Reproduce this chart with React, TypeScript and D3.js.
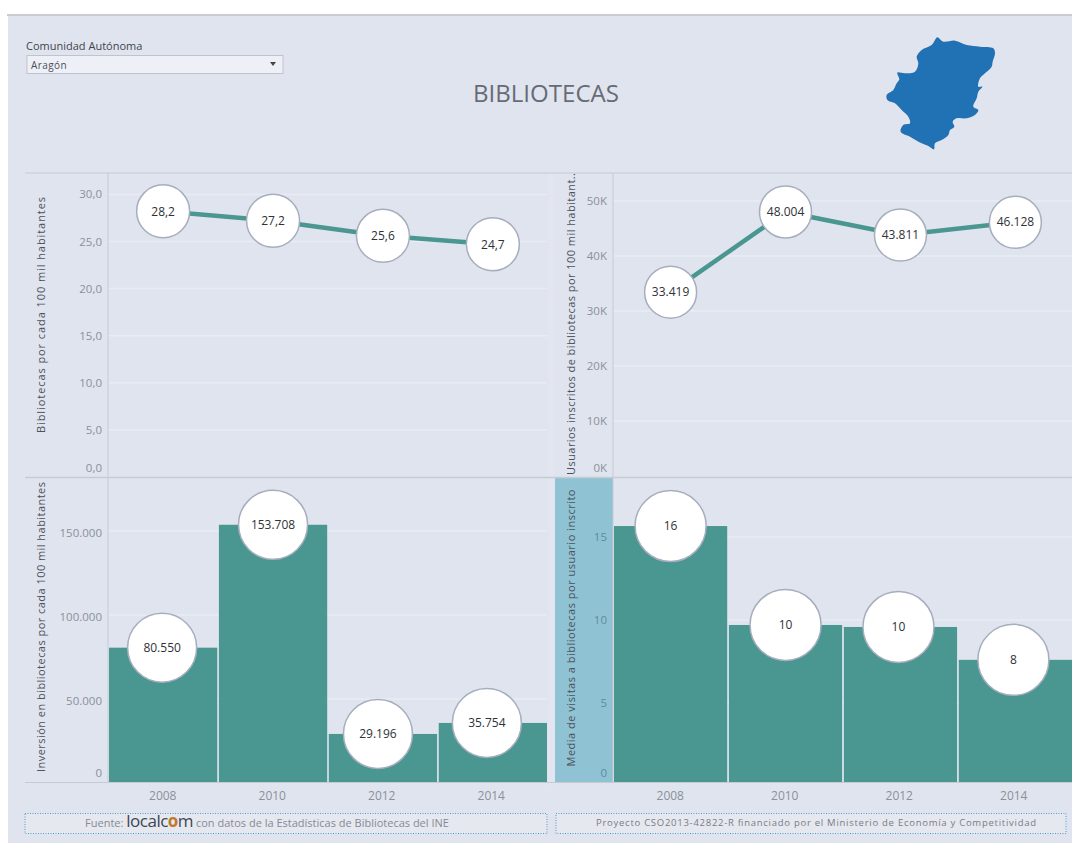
import React from "react";
import * as d3 from "d3";

const years = ["2008", "2010", "2012", "2014"];
const bibliotecas = [28.2, 27.2, 25.6, 24.7];
const usuarios = [33419, 48004, 43811, 46128];
const inversion = [80550, 153708, 29196, 35754];
const visitas = [15.66, 9.7, 9.58, 7.6];

const bibliotecasTicks = [0, 5, 10, 15, 20, 25, 30];
const usuariosTicks = [0, 10000, 20000, 30000, 40000, 50000];
const inversionTicks = [0, 50000, 100000, 150000];
const visitasTicks = [0, 5, 10, 15];

// Outline of Aragón, in arbitrary map units
const aragonOutline: [number, number][] = [
  [232,52],[250,65],[285,62],[320,75],[360,80],[400,85],[405,100],[398,125],[395,140],[375,160],[360,175],[355,200],[367,200],[355,215],[350,235],[340,260],[355,270],[345,285],[320,295],[290,295],[278,305],[283,320],[270,330],[265,345],[245,360],[225,370],[222,388],[205,378],[185,370],[150,350],[122,335],[130,315],[150,310],[145,290],[125,270],[105,250],[82,240],[80,225],[100,210],[110,190],[118,178],[112,158],[135,160],[165,155],[175,130],[170,110],[185,90],[215,75],[225,60],
];

const BG = "#e0e4ef";
const TEAL = "#4a9690";
const GRID = "#e9ecf5";
const RULE = "#c6cad3";
const TICK = "#8b9099";
const FONT = "'Open Sans', 'Noto Sans', sans-serif";

const esInt = (v: number) => d3.format(",.0f")(v).replace(/,/g, ".");
const esDec = (v: number) => d3.format(".1f")(v).replace(".", ",");
const kFmt = (v: number) => `${v / 1000}K`;

const LEFT = { axisX: 108, x0: 109, x1: 547, titleX: 41 };
const RIGHT = { axisX: 613, x0: 614, x1: 1072, titleX: 571 };
const TOP_ROW = { top: 173, bottom: 477, zeroLabelY: 468 };
const BOTTOM_ROW = { top: 478, bottom: 782, zeroLabelY: 773 };

type PanelProps = {
  col: typeof LEFT;
  row: typeof TOP_ROW;
  values: number[];
  ticks: number[];
  tickFormat: (v: number) => string;
  labelFormat: (v: number) => string;
  y: d3.ScaleLinear<number, number>;
  kind: "line" | "bar";
  radius: number;
  title: string;
  titleCenter: number;
  titleLength: number;
  tickColor?: string;
  tickShift?: number;
  nudge?: number[];
};

function Panel(p: PanelProps) {
  const x = d3.scaleBand<string>().domain(years).range([p.col.x0, p.col.x1]).paddingInner(0.015).paddingOuter(0);
  const cx = (i: number) => (x(years[i]) as number) + x.bandwidth() / 2 + (p.nudge ? p.nudge[i] : 0);
  const line = d3.line<number>().x((_, i) => cx(i)).y((d) => p.y(d));
  return (
    <g>
      {p.ticks.filter((t) => t !== 0).map((t) => (
        <line key={t} x1={p.col.x0} x2={p.col.x1} y1={p.y(t)} y2={p.y(t)} stroke={GRID} strokeWidth={1.5} />
      ))}
      {p.kind === "bar" && p.values.map((v, i) => (
        <rect key={i} x={x(years[i])} width={x.bandwidth()} y={p.y(v)} height={p.row.bottom - p.y(v)} fill={TEAL} />
      ))}
      {p.kind === "line" && <path d={line(p.values) as string} fill="none" stroke={TEAL} strokeWidth={4.5} />}
      {p.ticks.map((t) => (
        <text key={t} x={p.col.axisX - 6} y={t === 0 ? p.row.zeroLabelY : p.y(t) + (p.tickShift ?? 0)} dy="0.35em" textAnchor="end"
          fontSize={11.5} fill={p.tickColor ?? TICK} fontFamily={FONT}>{p.tickFormat(t)}</text>
      ))}
      <text transform={`translate(${p.col.titleX},${p.titleCenter}) rotate(-90)`} textAnchor="middle" dy="0.35em"
        fontSize={11} fill="#4c525c" fontFamily={FONT} textLength={p.titleLength} lengthAdjust="spacing">{p.title}</text>
      {p.values.map((v, i) => (
        <g key={i}>
          <circle cx={cx(i)} cy={p.y(v)} r={p.radius} fill="#ffffff" stroke="#a6aebd" strokeWidth={1.5} />
          <text x={cx(i)} y={p.y(v)} dy="0.35em" textAnchor="middle" fontSize={12} fill="#2e3237" fontFamily={FONT}>
            {p.labelFormat(v)}
          </text>
        </g>
      ))}
    </g>
  );
}

function YearLabels({ col }: { col: typeof LEFT }) {
  const x = d3.scaleBand<string>().domain(years).range([col.x0, col.x1]);
  return (
    <g>
      {years.map((yr) => (
        <text key={yr} x={(x(yr) as number) + x.bandwidth() / 2 - 1} y={796} dy="0.35em" textAnchor="middle"
          fontSize={12} fill={TICK} fontFamily={FONT}>{yr}</text>
      ))}
    </g>
  );
}

export default function App() {
  const yBib = d3.scaleLinear().domain([0, 30]).range([477, 194.4]);
  const yUsu = d3.scaleLinear().domain([0, 50000]).range([476, 201]);
  const yInv = d3.scaleLinear().domain([0, 150000]).range([783, 531]);
  const yVis = d3.scaleLinear().domain([0, 15]).range([786, 537]);

  const mapX = d3.scaleLinear().domain([0, 480]).range([860, 1020]);
  const mapY = d3.scaleLinear().domain([0, 420]).range([20, 160]);
  const mapPath = d3.line<[number, number]>()
    .x((d) => mapX(d[0])).y((d) => mapY(d[1]))
    .curve(d3.curveCatmullRomClosed)(aragonOutline) as string;

  return (
    <svg width={1072} height={843} style={{ position: "absolute", left: 0, top: 0, display: "block" }}>
      <rect width={1072} height={843} fill="#ffffff" />
      <rect x={8} y={16} width={1064} height={827} fill={BG} />
      <line x1={7} x2={1072} y1={15} y2={15} stroke="#c9ccd1" strokeWidth={2} />

      <text x={26} y={50} fontSize={11} fill="#3f444c" fontFamily={FONT}>Comunidad Autónoma</text>
      <rect x={27} y={55.5} width={256} height={18} fill="#eef0f7" stroke="#bfc3cc" />
      <text x={31} y={69} fontSize={10} fill="#4a4f57" fontFamily={FONT} letterSpacing={0.4}>Aragón</text>
      <path d={d3.line()([[270, 62], [276, 62], [273, 66]]) + "Z"} fill="#444" />

      <text x={546} y={94} dy="0.35em" textAnchor="middle" fontSize={23} fontWeight={500} fill="#666b75" fontFamily={FONT}
        textLength={146} lengthAdjust="spacingAndGlyphs">BIBLIOTECAS</text>
      <path d={mapPath} fill="#2171b5" />

      <rect x={555} y={478} width={58} height={304} fill="#8fc3d3" />
      <rect x={548} y={173} width={6} height={612} fill="#e3e6f1" />

      <line x1={25} x2={1072} y1={173} y2={173} stroke={RULE} />
      <line x1={25} x2={1072} y1={477.5} y2={477.5} stroke={RULE} strokeWidth={1.5} />
      <line x1={25} x2={1072} y1={782.5} y2={782.5} stroke={RULE} />
      <line x1={108} x2={108} y1={173} y2={782} stroke={RULE} />
      <line x1={613} x2={613} y1={173} y2={782} stroke={RULE} />

      <Panel col={LEFT} row={TOP_ROW} values={bibliotecas} ticks={bibliotecasTicks} tickFormat={esDec} labelFormat={esDec}
        y={yBib} kind="line" radius={26.5} title="Bibliotecas por cada 100 mil habitantes" titleCenter={315} titleLength={236} />
      <Panel col={RIGHT} row={TOP_ROW} values={usuarios} ticks={usuariosTicks} tickFormat={kFmt} labelFormat={esInt}
        y={yUsu} kind="line" radius={26} title="Usuarios inscritos de bibliotecas por 100 mil habitant.." titleCenter={324} titleLength={302} />
      <Panel col={LEFT} row={BOTTOM_ROW} values={inversion} ticks={inversionTicks} tickFormat={esInt} labelFormat={esInt}
        y={yInv} kind="bar" radius={34.5} title="Inversión en bibliotecas por cada 100 mil habitantes" titleCenter={627} titleLength={290}
        tickShift={2} nudge={[-1, 0, -5, -6]} />
      <Panel col={RIGHT} row={BOTTOM_ROW} values={visitas} ticks={visitasTicks} tickFormat={(v) => String(v)} labelFormat={(v) => String(Math.round(v))}
        y={yVis} kind="bar" radius={35.5} title="Media de visitas a bibliotecas por usuario inscrito" titleCenter={628} titleLength={277}
        tickColor="#5f8b9b" nudge={[0, 0, -2, -2]} />

      <YearLabels col={LEFT} />
      <YearLabels col={RIGHT} />

      <rect x={25} y={813.5} width={522} height={20} fill="#e6e8f0" stroke="#4f9fc8" strokeDasharray="1 1.5" />
      <rect x={556} y={813.5} width={510} height={20} fill="#e6e8f0" stroke="#4f9fc8" strokeDasharray="1 1.5" />
      <text x={267} y={823.5} dy="0.35em" textAnchor="middle" fontSize={11} fill="#858a93" fontFamily={FONT}>
        <tspan>Fuente: </tspan>
        <tspan fontSize={17} fontWeight={500} letterSpacing={-0.5} fill="#3c4654">localc</tspan>
        <tspan fontSize={17} fontWeight={700} letterSpacing={-0.5} fill="#c07a2e">o</tspan>
        <tspan fontSize={17} fontWeight={500} letterSpacing={-0.5} fill="#3c4654">m</tspan>
        <tspan> con datos de la Estadísticas de Bibliotecas del INE</tspan>
      </text>
      <text x={816} y={823} dy="0.35em" textAnchor="middle" fontSize={9.5} fill="#777c85" fontFamily={FONT} textLength={440} lengthAdjust="spacing">
        Proyecto CSO2013-42822-R financiado por el Ministerio de Economía y Competitividad
      </text>
    </svg>
  );
}
